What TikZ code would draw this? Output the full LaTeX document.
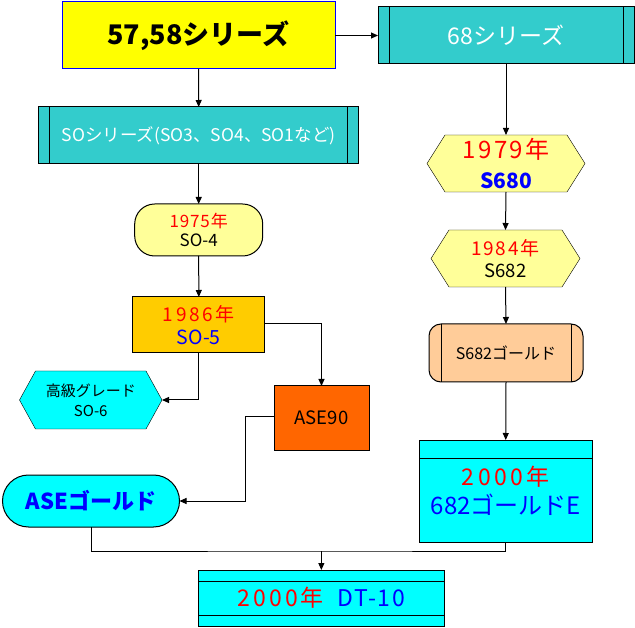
\documentclass[tikz,border=0pt]{standalone}
\usepackage{fontspec}
\setmainfont{Noto Sans CJK JP}
\usetikzlibrary{arrows.meta,backgrounds}
\definecolor{cyel}{HTML}{FFFF00}
\definecolor{cteal}{HTML}{33CCCC}
\definecolor{clyel}{HTML}{FFFF99}
\definecolor{corg}{HTML}{FFCC00}
\definecolor{cpeach}{HTML}{FFCC99}
\definecolor{ccyan}{HTML}{00FFFF}
\definecolor{cdorg}{HTML}{FF6600}
\definecolor{cred}{HTML}{FF0000}
\definecolor{cblue}{HTML}{0000FF}
\newcommand{\lsp}[1]{\addfontfeatures{LetterSpace=#1}}
\newcommand{\fsz}[1]{\fontsize{#1}{#1}\selectfont}
\begin{document}
\begin{tikzpicture}[x=1pt,y=-1pt,line width=1pt,
  box/.style={draw=black,inner sep=0pt,outer sep=0pt,align=center},
  ghost/.style={inner sep=0pt,outer sep=0pt,align=center},
  arr/.style={-{Triangle[length=7pt,width=6pt]}},
  fs/.style n args={2}{font=\fontsize{#1}{#2}\selectfont}]
\useasboundingbox (0,0) rectangle (635,628);
\begin{scope}[on background layer]
\fill[white] (0,0) rectangle (635,628);
\end{scope}

% nodes
\node[box,draw=cblue,fill=cyel,minimum width=273pt,minimum height=67pt,fs={27}{30}] (top) at (198.5,35.5) {\bfseries 57,58シリーズ};
\node[box,fill=cteal,minimum width=256pt,minimum height=57pt,fs={23}{24},text=white] (s68) at (506,35.5) {68シリーズ};
\node[box,fill=cteal,minimum width=320pt,minimum height=57pt,fs={17.5}{19},text=white] (so) at (198.7,135.5) {SOシリーズ(SO3、SO4、SO1など)};
\node[ghost,minimum width=158pt,minimum height=57pt,fs={24}{30}] (h79) at (506,163.5) {\textcolor{cred}{\lsp{10}1979年}\\\textcolor{cblue}{\bfseries\fsz{21}S680}};
\node[box,fill=clyel,rounded corners=20pt,minimum width=128pt,minimum height=52pt,fs={17}{19}] (r75) at (198.7,230) {\textcolor{cred}{\lsp{5}1975年}\\SO-4};
\node[ghost,minimum width=149pt,minimum height=57pt,fs={18.5}{22}] (h84) at (505.5,258.5) {\textcolor{cred}{\fsz{19}\lsp{10}1984年}\\S682};
\node[box,fill=corg,minimum width=132pt,minimum height=56pt,fs={19}{23}] (b86) at (198.8,325) {\textcolor{cred}{\lsp{14}1986年}\\\textcolor{cblue}{\fsz{19.5}SO-5}};
\node[box,fill=cpeach,rounded corners=12pt,minimum width=154pt,minimum height=58pt,fs={16}{19}] (g682) at (506,353) {S682ゴールド};
\node[ghost,minimum width=142.5pt,minimum height=58pt,fs={15}{20}] (hk) at (90.75,400) {高級グレード\\SO-6};
\node[box,fill=cdorg,minimum width=95pt,minimum height=64pt,fs={18.5}{21}] (ase90) at (321.5,418) {ASE90};
\node[box,fill=ccyan,rounded corners=26pt,minimum width=177pt,minimum height=52pt,fs={22}{24},text=cblue] (aseg) at (91,501) {\bfseries ASEゴールド};
\node[box,fill=ccyan,minimum width=173.5pt,minimum height=102pt,fs={23}{29}] (e682) at (505.75,491) {\textcolor{cred}{\lsp{15}2000年}\\\textcolor{cblue}{\fsz{24}682ゴールドE}};
\node[box,fill=ccyan,minimum width=245.3pt,minimum height=56pt,fs={23}{24}] (dt) at (321.35,598) {\textcolor{cred}{\lsp{13}2000年}\hspace{0.6em}\textcolor{cblue}{\lsp{7}DT-10}};

% decorations of shapes
\begin{scope}[on background layer]
\filldraw[fill=clyel] ([xshift=18pt]h79.north west) -- ([xshift=-18pt]h79.north east) -- (h79.east) -- ([xshift=-18pt]h79.south east) -- ([xshift=18pt]h79.south west) -- (h79.west) -- cycle;
\filldraw[fill=clyel] ([xshift=18pt]h84.north west) -- ([xshift=-18pt]h84.north east) -- (h84.east) -- ([xshift=-18pt]h84.south east) -- ([xshift=18pt]h84.south west) -- (h84.west) -- cycle;
\filldraw[fill=ccyan] ([xshift=16pt]hk.north west) -- ([xshift=-16pt]hk.north east) -- (hk.east) -- ([xshift=-16pt]hk.south east) -- ([xshift=16pt]hk.south west) -- (hk.west) -- cycle;
\end{scope}
\draw ([xshift=11pt]s68.north west) -- ([xshift=11pt]s68.south west);
\draw ([xshift=-11pt]s68.north east) -- ([xshift=-11pt]s68.south east);
\draw ([xshift=11pt]so.north west) -- ([xshift=11pt]so.south west);
\draw ([xshift=-11pt]so.north east) -- ([xshift=-11pt]so.south east);
\draw ([xshift=12pt]g682.north west) -- ([xshift=12pt]g682.south west);
\draw ([xshift=-11.5pt]g682.north east) -- ([xshift=-11.5pt]g682.south east);
\draw ([yshift=-18.7pt]e682.north west) -- ([yshift=-18.7pt]e682.north east);
\draw ([yshift=-11.3pt]dt.north west) -- ([yshift=-11.3pt]dt.north east);
\draw ([yshift=10.7pt]dt.south west) -- ([yshift=10.7pt]dt.south east);

% connectors
\draw[arr] (top.east) -- (s68.west);
\draw[arr] (top.south) -- (so.north);
\draw[arr] (s68.south) -- (h79.north);
\draw[arr] (so.south) -- (r75.north);
\draw[arr] (r75.south) -- (b86.north);
\draw[arr] (h79.south) -- (h84.north);
\draw[arr] (h84.south) -- (g682.north);
\draw[arr] (g682.south) -- (e682.north);
\draw[arr] ([yshift=1pt]b86.east) -| (ase90.north);
\draw[arr] (b86.south) |- (hk.east);
\draw[arr] ([yshift=1pt]ase90.west) -- ++(-28.3,0) |- (aseg.east);
\coordinate (jn) at (321.35,551);
\draw (aseg.south) |- (jn) -| (e682.south);
\draw[arr] (jn) -- (dt.north);
\end{tikzpicture}
\end{document}
